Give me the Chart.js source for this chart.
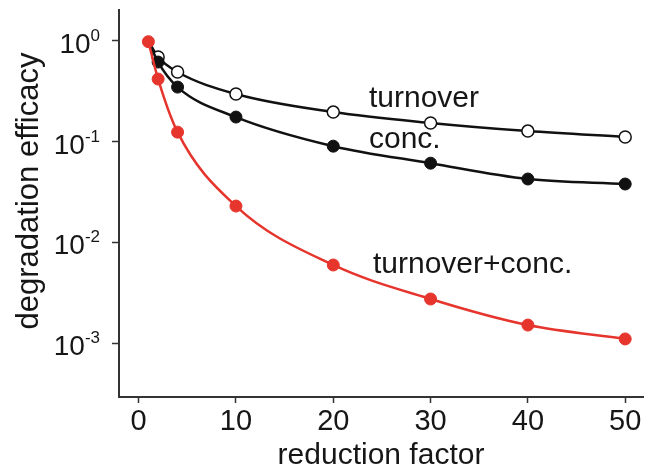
<!DOCTYPE html>
<html>
<head>
<meta charset="utf-8">
<script src="https://cdn.jsdelivr.net/npm/chart.js@4/dist/chart.umd.min.js"></script>
<style>
    body { margin: 0; background: #fff; }
</style>
</head>
<body>
<canvas id="chart" width="653" height="471"></canvas>
<script>
/* Values */
const reductionFactor = [1, 2, 4, 10, 20, 30, 40, 50];
const turnoverConc = [0.98, 0.417, 0.124, 0.0229, 0.00596, 0.00274, 0.00151, 0.0011];
const turnoverOnly = [1.0, 0.689, 0.49, 0.296, 0.196, 0.153, 0.127, 0.111];
const concOnly = [1.0, 0.615, 0.347, 0.175, 0.090, 0.061, 0.0425, 0.0379];

const xTicks = [0, 10, 20, 30, 40, 50];
const yTicks = [1, 0.1, 0.01, 0.001];
const yTickExponents = ['0', '-1', '-2', '-3'];

const seriesLabels = ['turnover', 'conc.', 'turnover+conc.'];

const FONT = '"Liberation Sans", Arial, sans-serif';
const TEXT = '#161616';
const AXIS = '#333333';
const RED = '#e5352d';
const BLACK = '#111111';


function toPoints(values) {
    return values.map((v, i) => ({x: reductionFactor[i], y: v}));
}

/* hide the first marker of the black curves, it sits under the red one */
function hideFirst(ctx) {
    return ctx.dataIndex === 0 ? 0 : 6;
}


/*
 * Superscript tick labels, y title and the curve labels
 */
const decorations = {
    id: 'decorations',
    afterDraw(chart) {
        const ctx = chart.ctx;
        const xs = chart.scales.x;
        const ys = chart.scales.y;
        ctx.save();
        ctx.fillStyle = TEXT;
        ctx.textBaseline = 'alphabetic';

        yTicks.forEach((v, i) => {
            const py = ys.getPixelForValue(v);
            const right = 100;
            ctx.font = '17px ' + FONT;
            const ew = ctx.measureText(yTickExponents[i]).width;
            ctx.textAlign = 'left';
            ctx.fillText(yTickExponents[i], right - ew, py);
            ctx.font = '28px ' + FONT;
            ctx.textAlign = 'right';
            ctx.fillText('10', right - ew, py + 12);
        });

        ctx.font = '30px ' + FONT;
        ctx.textAlign = 'left';
        ctx.fillText(seriesLabels[0], xs.getPixelForValue(23.67), ys.getPixelForValue(0.22));
        ctx.fillText(seriesLabels[1], xs.getPixelForValue(23.67), ys.getPixelForValue(0.0862));
        ctx.fillText(seriesLabels[2], xs.getPixelForValue(24.08), ys.getPixelForValue(0.00496));

        ctx.translate(29, 191);
        ctx.rotate(-Math.PI / 2);
        ctx.textAlign = 'center';
        ctx.textBaseline = 'middle';
        ctx.font = '31px ' + FONT;
        ctx.fillText('degradation efficacy', 0, 0);
        ctx.restore();
    }
};


new Chart(document.getElementById('chart'), {
    type: 'line',
    data: {
        datasets: [
            {
                label: seriesLabels[2],
                data: toPoints(turnoverConc),
                borderColor: RED,
                backgroundColor: RED,
                borderWidth: 2.5,
                pointRadius: 6,
                pointBackgroundColor: RED,
                pointBorderColor: RED,
                pointBorderWidth: 1,
                cubicInterpolationMode: 'monotone',
            },
            {
                label: seriesLabels[1],
                data: toPoints(concOnly),
                borderColor: BLACK,
                borderWidth: 2.5,
                pointRadius: hideFirst,
                pointBackgroundColor: BLACK,
                pointBorderColor: BLACK,
                pointBorderWidth: 1,
                cubicInterpolationMode: 'monotone',
            },
            {
                label: seriesLabels[0],
                data: toPoints(turnoverOnly),
                borderColor: BLACK,
                borderWidth: 2.5,
                pointRadius: hideFirst,
                pointBackgroundColor: '#ffffff',
                pointBorderColor: BLACK,
                pointBorderWidth: 1.5,
                cubicInterpolationMode: 'monotone',
            },
        ]
    },
    options: {
        responsive: false,
        animation: false,
        devicePixelRatio: 1,
        layout: {padding: {top: 10, right: 10, left: 0, bottom: 0}},
        plugins: {
            legend: {display: false},
            tooltip: {enabled: false},
        },
        scales: {
            x: {
                type: 'linear',
                min: -2.02,
                max: 51.83,
                afterBuildTicks: (s) => { s.ticks = xTicks.map(v => ({value: v})); },
                afterFit: (s) => { s.height = 74; },
                ticks: {
                    font: {family: FONT, size: 29},
                    color: TEXT,
                    padding: 2,
                },
                grid: {
                    drawOnChartArea: false,
                    tickLength: 6,
                    tickWidth: 1.5,
                    tickColor: AXIS,
                },
                border: {color: AXIS, width: 2},
                title: {
                    display: true,
                    text: 'reduction factor',
                    font: {family: FONT, size: 30, lineHeight: 1},
                    color: TEXT,
                    padding: {top: 0, bottom: 0},
                },
            },
            y: {
                type: 'logarithmic',
                min: 0.000292,
                max: 2.02,
                afterBuildTicks: (s) => { s.ticks = yTicks.map(v => ({value: v})); },
                afterFit: (s) => { s.width = 119; },
                ticks: {display: false},
                grid: {
                    drawOnChartArea: false,
                    tickLength: 7,
                    tickWidth: 1.5,
                    tickColor: AXIS,
                },
                border: {color: AXIS, width: 2},
            },
        },
    },
    plugins: [decorations],
});
</script>
</body>
</html>
